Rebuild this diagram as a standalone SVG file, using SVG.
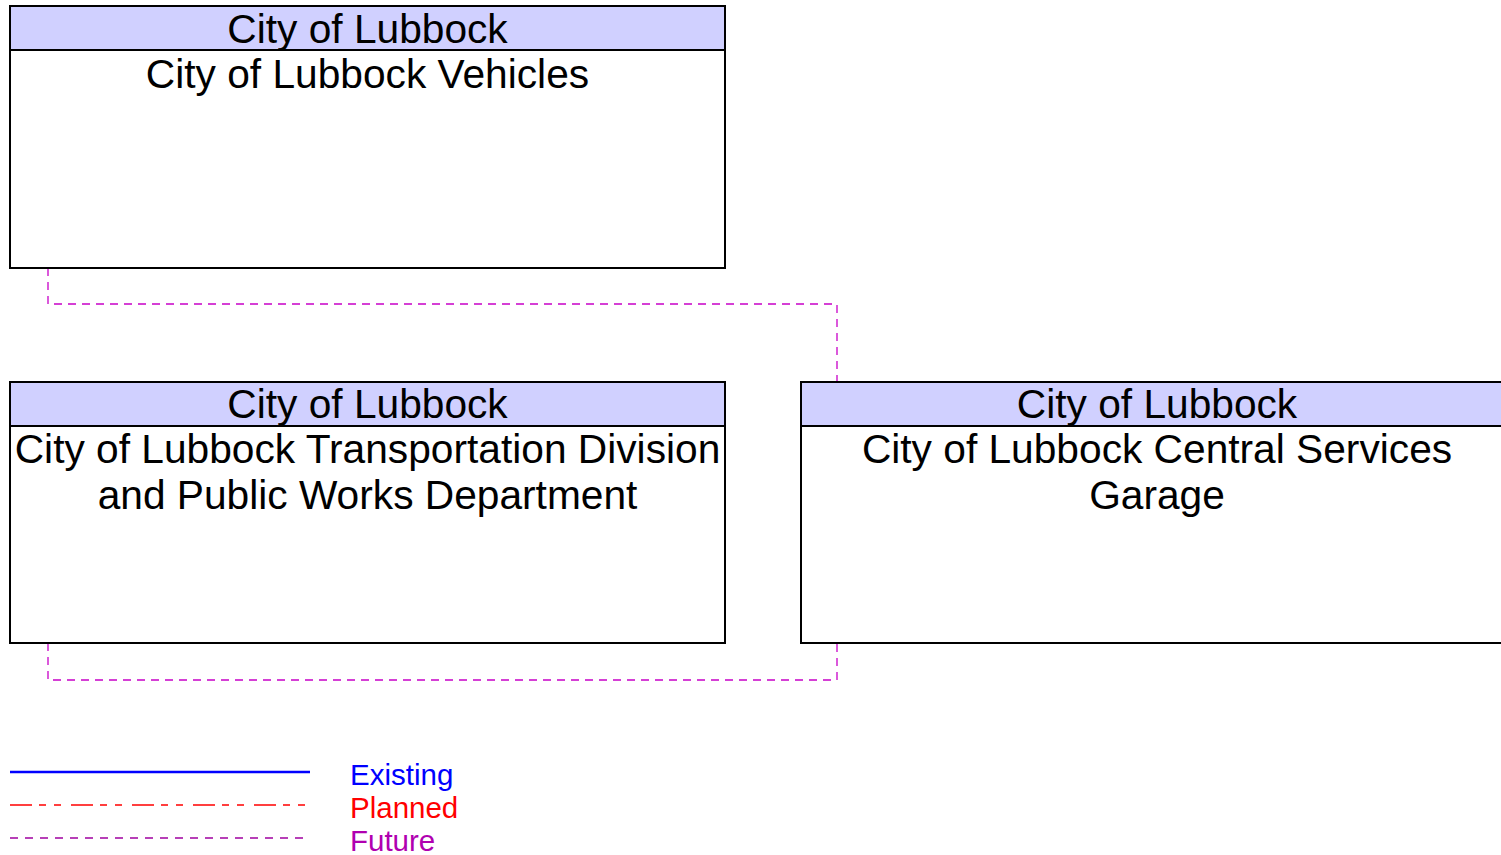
<svg xmlns="http://www.w3.org/2000/svg" width="1501" height="855" viewBox="0 0 1501 855">
<style>
.box{fill:#fff;stroke:#000;stroke-width:2}
.hdr{fill:#d0d0ff;stroke:#000;stroke-width:2}
.t{font-family:"Liberation Sans",Arial,sans-serif;font-size:40.7px;fill:#000;text-anchor:middle}
.lg{font-family:"Liberation Sans",Arial,sans-serif;font-size:29.5px}
.fut{fill:none;stroke:#c800c8;stroke-width:1.3;stroke-dasharray:8,6}
</style>
<rect width="1501" height="855" fill="#fff"/>
<g id="connectors">
<polyline class="fut" points="48,268 48,304 837,304 837,382"/>
<polyline class="fut" points="48,643 48,680 837,680 837,643"/>
</g>
<g id="vehicles">
<rect class="box" x="10" y="6" width="715" height="262"/>
<rect class="hdr" x="10" y="6" width="715" height="44"/>
<text class="t" x="367.5" y="43">City of Lubbock</text>
<text class="t" x="367.5" y="88">City of Lubbock Vehicles</text>
</g>
<g id="transportation">
<rect class="box" x="10" y="382" width="715" height="261"/>
<rect class="hdr" x="10" y="382" width="715" height="44"/>
<text class="t" x="367.5" y="418">City of Lubbock</text>
<text class="t" x="367.5" y="463">City of Lubbock Transportation Division</text>
<text class="t" x="367.5" y="509">and Public Works Department</text>
</g>
<g id="garage">
<rect class="box" x="801" y="382" width="715" height="261"/>
<rect class="hdr" x="801" y="382" width="715" height="44"/>
<text class="t" x="1157" y="418">City of Lubbock</text>
<text class="t" x="1157" y="463">City of Lubbock Central Services</text>
<text class="t" x="1157" y="509">Garage</text>
</g>
<g id="legend">
<line x1="10" y1="772" x2="310" y2="772" stroke="#0000ff" stroke-width="2.5"/>
<line x1="10" y1="805" x2="310" y2="805" stroke="#ff0000" stroke-width="1.3" stroke-dasharray="22,7,7,8,7,10"/>
<line x1="10" y1="838" x2="310" y2="838" stroke="#a000a0" stroke-width="1.3" stroke-dasharray="8,7"/>
<text class="lg" x="350" y="785" fill="#0000ff">Existing</text>
<text class="lg" x="350" y="818" fill="#ff0000">Planned</text>
<text class="lg" x="350" y="851" fill="#b000b0">Future</text>
</g>
</svg>
